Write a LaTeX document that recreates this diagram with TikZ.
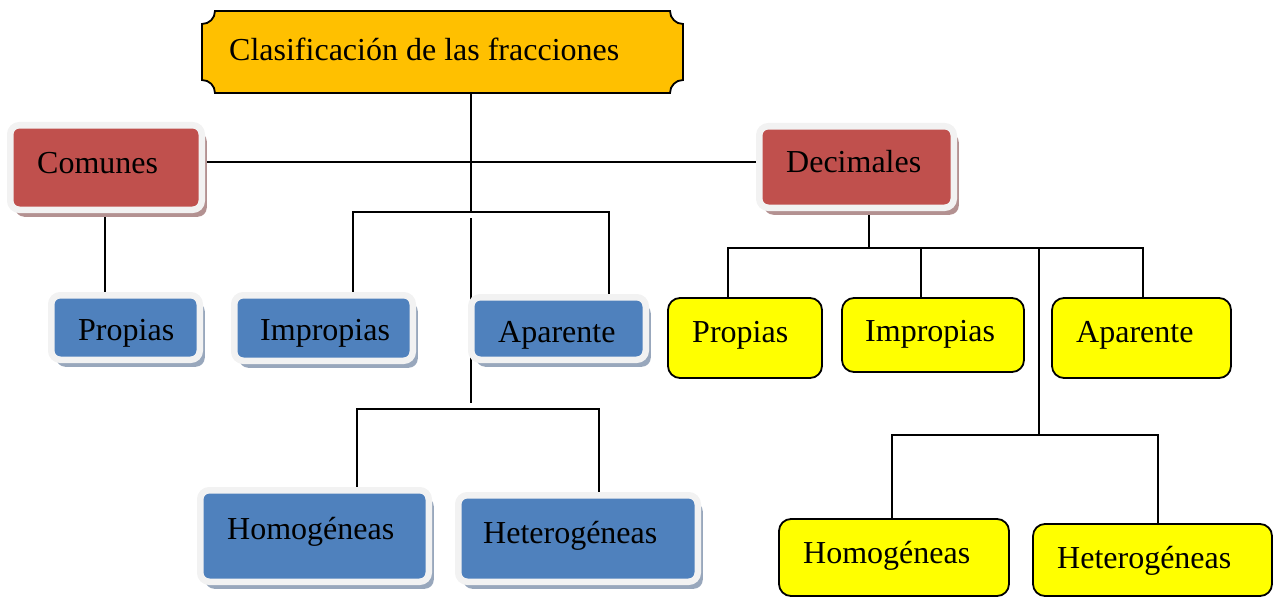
\documentclass[tikz,border=0pt]{standalone}
\usepackage{fontspec}
\setmainfont{Liberation Serif}
\usetikzlibrary{shadows,backgrounds}
\definecolor{redf}{HTML}{C0504D}
\definecolor{bluef}{HTML}{4F81BD}
\definecolor{frameg}{HTML}{F2F2F2}
\definecolor{redsh}{HTML}{B39191}
\definecolor{bluesh}{HTML}{98A7BC}
\definecolor{orangef}{HTML}{FFC000}
\definecolor{yelf}{HTML}{FFFF00}
\begin{document}
\begin{tikzpicture}[x=1pt,y=-1pt,
  conn/.style={line width=1.8pt, draw=black},
  framed/.style={rectangle, rounded corners=9pt, draw=frameg, line width=6.5pt, inner sep=0pt},
  redbox/.style={framed, fill=redf, drop shadow={shadow xshift=5pt, shadow yshift=-7pt, fill=redsh, opacity=1}},
  bluebox/.style={framed, fill=bluef, drop shadow={shadow xshift=5pt, shadow yshift=-7pt, fill=bluesh, opacity=1}},
  ybox/.style={rectangle, rounded corners=12pt, draw=black, line width=1.8pt, fill=yelf, inner sep=0pt},
  txt/.style={anchor=base west, inner sep=0pt, font=\fontsize{32}{36}\selectfont}]
\useasboundingbox (0,0) rectangle (1281,599);
\clip (0,0) rectangle (1281,599);

% top plaque
\node[rectangle, minimum width=481pt, minimum height=82pt, inner sep=0pt, outer sep=0pt] (top) at (442.2,52) {};
\draw[line width=1.8pt, fill=orangef]
  (215,11) -- (670,11)
  .. controls (670,18.2) and (675.8,24) .. (683,24)
  -- (683,80)
  .. controls (675.8,80) and (670,85.8) .. (670,93)
  -- (215,93)
  .. controls (215,85.8) and (209.2,80) .. (202,80)
  -- (202,24)
  .. controls (209.2,24) and (215,18.2) .. (215,11) -- cycle;
\node[txt] (ttop) at (229,61) {Clasificación de las fracciones};

% red boxes
\node[redbox, minimum width=191.5pt, minimum height=84.5pt] (com) at (106,167.5) {};
\node[txt] (tcom) at (37,173) {Comunes};
\node[redbox, minimum width=194.5pt, minimum height=81.5pt] (dec) at (856.5,167) {};
\node[txt] (tdec) at (786,172) {Decimales};

% blue boxes
\node[bluebox, minimum width=148.5pt, minimum height=64.5pt] (bp) at (125.5,327.5) {};
\node[txt] (tbp) at (78,340) {Propias};
\node[bluebox, minimum width=178.5pt, minimum height=65.5pt] (bi) at (323.5,328) {};
\node[txt] (tbi) at (260,340) {Impropias};
\node[bluebox, minimum width=174.5pt, minimum height=62.5pt] (ba) at (558.5,328.5) {};
\node[txt] (tba) at (498,342) {Aparente};
\node[bluebox, minimum width=228.5pt, minimum height=91.5pt] (bh) at (314.5,536) {};
\node[txt] (tbh) at (227,539) {Homogéneas};
\node[bluebox, minimum width=239.5pt, minimum height=86.5pt] (bt) at (578,538.5) {};
\node[txt] (tbt) at (483,543) {Heterogéneas};

% yellow boxes
\node[ybox, minimum width=154pt, minimum height=80pt] (yp) at (745,338) {};
\node[txt] (typ) at (692,342) {Propias};
\node[ybox, minimum width=182pt, minimum height=74pt] (yi) at (933,335) {};
\node[txt] (tyi) at (865,341) {Impropias};
\node[ybox, minimum width=179pt, minimum height=80pt] (ya) at (1141.5,338) {};
\node[txt] (tya) at (1076,342) {Aparente};
\node[ybox, minimum width=230pt, minimum height=77pt] (yh) at (894,557.5) {};
\node[txt] (tyh) at (803,563) {Homogéneas};
\node[ybox, minimum width=239pt, minimum height=72pt] (yt) at (1152.5,560) {};
\node[txt] (tyt) at (1057,568) {Heterogéneas};

\coordinate (b1) at (471,212);
\coordinate (c1) at (471,218);
\coordinate (c2) at (471,403);
\coordinate (d1) at (869,248);
\coordinate (e1) at (1039,435);

\begin{pgfonlayer}{background}
\draw[conn] (b1 |- top.south) -- (b1);
\draw[conn] (353,0 |- bi.north) -- (353,212) -- (609,212) -- (609,0 |- ba.north);
\draw[conn] (com.east |- 0,162) -- (dec.west |- 0,162);
\draw[conn] (105,0 |- com.south) -- (105,0 |- bp.north);
\draw[conn] (c1) -- (c2);
\draw[conn] (357,0 |- bh.north) -- (357,409) -- (599,409) -- (599,0 |- bt.north);
\draw[conn] (d1 |- dec.south) -- (d1);
\draw[conn] (728,0 |- yp.north) -- (728,248) -- (1143,248) -- (1143,0 |- ya.north);
\draw[conn] (921,248) -- (921,0 |- yi.north);
\draw[conn] (1039,248) -- (e1);
\draw[conn] (892,0 |- yh.north) -- (892,435) -- (1158,435) -- (1158,0 |- yt.north);
\end{pgfonlayer}
\end{tikzpicture}
\end{document}
